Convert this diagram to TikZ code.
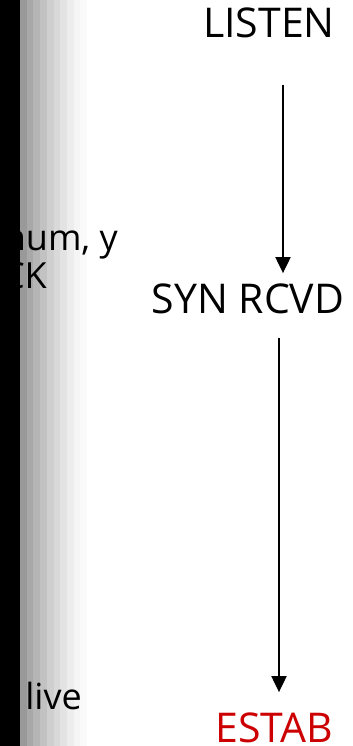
\documentclass[tikz,border=0pt]{standalone}
\usepackage{fontspec}
\setmainfont{Open Sans}
\usetikzlibrary{arrows.meta}
\definecolor{estabred}{RGB}{204,0,0}
\tikzset{
  state/.style={inner sep=0pt, anchor=base, font=\fontsize{41bp}{49bp}\selectfont},
  side/.style={inner sep=0pt, anchor=base east, font=\fontsize{36bp}{43bp}\selectfont},
  arr/.style={line width=2bp, -{Triangle[width=15bp,length=16bp]}},
}
\begin{document}
\begin{tikzpicture}[x=1bp,y=-1bp]
  \useasboundingbox (0,0) rectangle (352,746);
  \clip (0,0) rectangle (352,746);
  % shaded margin on the left
  \foreach \i/\g in {0/60,1/66,2/71,3/76,4/81,5/85,6/89,7/93,8/96,9/98}{
    \fill[black!\the\numexpr100-\g\relax] ({20+6.7*\i},0) rectangle ({20+6.7*(\i+1)},746);
  }
  % server-side notes, running in from the left
  \node[side] (n1) at (118,250) {choose init seq num, y};
  \node[side] (n2) at (47,288) {send TCP SYNACK};
  \node[side] (n3) at (23.5,322) {msg, acking SYN};
  \node[side] (n4) at (82,709) {indicates client is live};
  % dark edge band
  \fill[black] (0,0) rectangle (20,746);
  % states
  \node[state] (listen) at (269,38) {LISTEN};
  \node[state] (synrcvd) at (248,313) {SYN RCVD};
  \node[state, text=estabred] (estab) at (274.5,742) {ESTAB};
  % transitions
  \coordinate (t1) at (283,85);
  \coordinate (t2) at (279,338);
  \draw[arr] (t1) -- (t1 |- synrcvd.north) [shorten >=10bp];
  \draw[arr] (t2) -- (t2 |- estab.north) [shorten >=20bp];
\end{tikzpicture}
\end{document}
